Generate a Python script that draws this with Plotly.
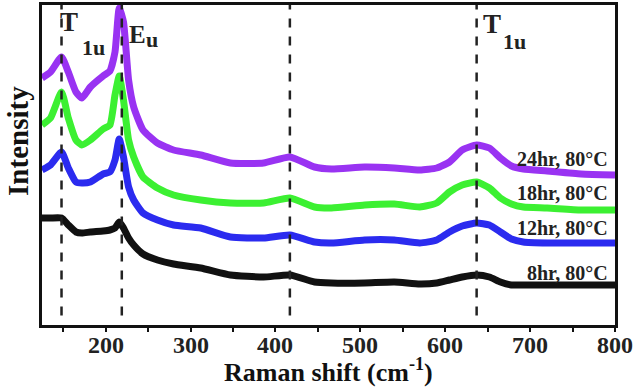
import plotly.graph_objects as go

# Raman shift (cm^-1)
shift = [125, 135, 148, 156, 165, 172, 182, 197, 205, 211, 216, 221, 227, 233, 244,
         261, 280, 312, 347, 386, 417, 446, 466, 505, 540, 570, 590, 605, 620, 637,
         652, 665, 678, 692, 720, 760, 800]

# Intensity (a.u., offset stacked)
i_24hr = [247, 253, 268, 253, 233, 227, 238, 249, 254, 273, 317, 303, 245, 218, 195,
          182, 175, 170, 162, 162, 168, 158, 156, 158, 157, 155, 157, 163, 175, 180,
          177, 167, 159, 156, 154, 151, 150]
i_18hr = [200, 207, 233, 207, 185, 180, 185, 196, 200, 230, 249, 225, 185, 168, 148,
          137, 130, 125, 122, 122, 127, 118, 117, 120, 121, 118, 122, 133, 140, 143,
          137, 127, 121, 118, 117, 115, 115]
i_12hr = [155, 160, 173, 157, 143, 142, 143, 151, 153, 165, 186, 168, 138, 125, 112,
          105, 100, 97, 88, 87, 90, 83, 82, 85, 85, 82, 85, 93, 99, 102,
          100, 93, 86, 83, 82, 82, 82]
i_8hr = [107, 107, 107, 100, 93, 92, 93, 94, 95, 97, 103, 97, 87, 80, 71,
         65, 61, 57, 50, 48, 50, 43, 42, 42, 43, 41, 42, 45, 48, 50,
         48, 43, 40, 40, 40, 40, 40]

series_names = ["8hr, 80°C", "12hr, 80°C", "18hr, 80°C", "24hr, 80°C"]
series_vals = [i_8hr, i_12hr, i_18hr, i_24hr]
series_colors = ["#111111", "#2b2bef", "#3cf032", "#9933f2"]

peak_positions = [148, 219, 417, 637]
x_ticks = [200, 300, 400, 500, 600, 700, 800]

FONT = "Liberation Serif"

fig = go.Figure()
for name, vals, col in zip(series_names, series_vals, series_colors):
    fig.add_trace(go.Scatter(x=shift, y=vals, mode="lines", name=name,
                             line=dict(color=col, width=7, shape="spline", smoothing=0.5)))

for p in peak_positions:
    fig.add_shape(type="line", x0=p, x1=p, y0=0.03, y1=1, xref="x", yref="paper",
                  line=dict(color="#222222", width=2.5, dash="dash"), layer="above")

# series labels (right aligned near right edge)
label_y = [52, 97, 132, 166]
for name, ly in zip(series_names, label_y):
    fig.add_annotation(x=794, y=ly, text=name, showarrow=False, xanchor="right",
                       yanchor="middle",
                       font=dict(family=FONT, size=20, color="#222222", weight="bold"))

# peak labels
peak_labels = [
    ("T", 157, 303, 27), ("1u", 186, 278, 22),
    ("E", 238, 291, 25), ("u", 254, 286, 22),
    ("T", 655, 301, 27), ("1u", 682, 284, 22),
]
for t, xx, yy, sz in peak_labels:
    fig.add_annotation(x=xx, y=yy, text=t, showarrow=False, xanchor="center",
                       yanchor="middle",
                       font=dict(family=FONT, size=sz, color="#222222", weight="bold"))

# x tick labels placed just below the axis
for t in x_ticks:
    fig.add_annotation(x=t, y=-0.064, xref="x", yref="paper", showarrow=False,
                       xanchor="center", yanchor="middle", text=str(t),
                       font=dict(family=FONT, size=24, color="#222222", weight="bold"))

# axis titles
fig.add_annotation(x=0.5, y=-0.143, xref="paper", yref="paper", showarrow=False,
                   xanchor="center", yanchor="middle",
                   text="Raman shift (cm<sup>-1</sup>)",
                   font=dict(family=FONT, size=26, color="#111111", weight="bold"))
fig.add_annotation(x=-0.042, y=0.575, xref="paper", yref="paper", showarrow=False,
                   xanchor="center", yanchor="middle", textangle=-90,
                   text="Intensity",
                   font=dict(family=FONT, size=29, color="#111111", weight="bold"))

fig.update_layout(
    width=640, height=390,
    margin=dict(l=42, r=25, t=5, b=65, autoexpand=False),
    plot_bgcolor="white", paper_bgcolor="white",
    showlegend=False,
    font=dict(family=FONT, color="#222222"),
)
fig.update_xaxes(
    range=[125, 800], tickvals=x_ticks, ticks="outside", ticklen=4, tickwidth=2,
    tickcolor="#111111", showticklabels=False,
    minor=dict(dtick=50, ticks="outside", ticklen=4, tickwidth=2, tickcolor="#111111"),
    showline=True, linewidth=3, linecolor="#111111", mirror=True, showgrid=False,
    zeroline=False, automargin=False,
)
fig.update_yaxes(
    range=[0, 320], showticklabels=False, ticks="", showgrid=False, zeroline=False,
    showline=True, linewidth=3, linecolor="#111111", mirror=True, automargin=False,
)

fig.write_html("out.html", config={"displayModeBar": False},
               post_script="document.body.style.margin='0';document.body.style.overflow='hidden';")
